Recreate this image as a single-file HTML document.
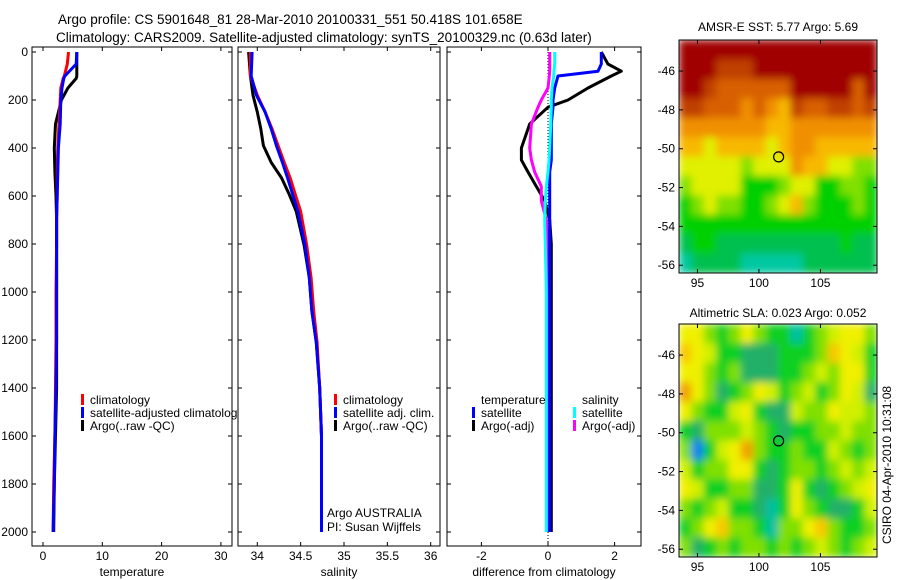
<!DOCTYPE html>
<html><head><meta charset="utf-8"><style>
body{margin:0;background:#fff;}
svg{display:block;font-family:"Liberation Sans",sans-serif;}
text{font-size:12px;fill:#000;}
</style></head><body>
<svg id="c" width="900" height="580" xmlns="http://www.w3.org/2000/svg">
<defs>
<filter id="blur" x="-5%" y="-5%" width="110%" height="110%"><feGaussianBlur stdDeviation="4" edgeMode="duplicate"/></filter>
<clipPath id="clipM1"><rect x="679" y="40" width="198" height="233"/></clipPath>
<clipPath id="clipM2"><rect x="679" y="324" width="198" height="233"/></clipPath>
<clipPath id="clipT"><rect x="0" y="0" width="238" height="580"/></clipPath>
</defs>
<text x="58" y="24" style="font-size:13.5px">Argo profile: CS 5901648_81 28-Mar-2010 20100331_551 50.418S 101.658E</text>
<text x="56" y="42" style="font-size:13.5px">Climatology: CARS2009. Satellite-adjusted climatology: synTS_20100329.nc (0.63d later)</text>
<text x="778" y="31" text-anchor="middle">AMSR-E SST: 5.77 Argo: 5.69</text>
<text x="778" y="317" text-anchor="middle">Altimetric SLA: 0.023 Argo: 0.052</text>
<text transform="translate(891,465) rotate(-90)" text-anchor="middle">CSIRO 04-Apr-2010 10:31:08</text>
</svg>
<script>
// ---- data ----
const tDepths=[0,50,100,110,150,200,300,400,500,600,700,800,1000,1200,1400,1600,1800,2000];
const tempClim=[4.3,4.1,3.6,3.4,3.0,2.9,2.7,2.5,2.4,2.4,2.3,2.3,2.2,2.2,2.1,2.0,1.8,1.7];
const tempSat=[5.7,5.6,3.7,3.5,3.2,3.0,2.9,2.6,2.5,2.4,2.3,2.3,2.3,2.3,2.2,2.0,1.9,1.7];
const tempArgo=[5.7,5.7,5.7,5.6,4.2,3.1,2.1,1.9,2.0,2.2,2.3,2.3,2.3,2.3,2.3,2.1,1.9,1.8];
const sDepths=[0,100,180,250,320,390,460,525,595,665,805,940,1080,1210,1400,1600,2000];
const salClim=[33.92,33.92,34.0,34.09,34.17,34.24,34.31,34.38,34.44,34.50,34.57,34.62,34.65,34.69,34.72,34.74,34.74];
const salSat=[33.94,33.93,33.99,34.09,34.16,34.22,34.29,34.35,34.41,34.47,34.55,34.60,34.63,34.68,34.72,34.74,34.74];
const salArgo=[33.90,33.92,33.95,34.0,34.04,34.07,34.16,34.28,34.37,34.45,34.54,34.60,34.63,34.68,34.72,34.74,34.74];
const dDepths=[0,50,80,100,150,200,230,300,400,450,500,560,620,700,800,1000,1400,2000];
const dTempSat=[1.6,1.6,1.5,0.3,0.2,0.15,0.15,0.1,0.1,0.1,0.05,0.05,0.05,0.05,0.05,0.05,0.05,0.05];
const dTempArgo=[1.6,1.8,2.2,1.9,1.2,0.6,0.0,-0.55,-0.8,-0.8,-0.6,-0.35,-0.1,0.05,0.1,0.1,0.1,0.1];
const dSalSat=[0.2,0.2,0.18,0.17,0.12,0.1,0.1,0.08,0.05,0.03,0.0,-0.05,-0.08,-0.1,-0.08,-0.05,-0.05,-0.05];
const dSalArgo=[0.05,0.05,0.05,0.04,0.0,-0.2,-0.3,-0.5,-0.55,-0.5,-0.4,-0.2,-0.2,-0.05,0,0,0,0];
const depthTicks=[0,200,400,600,800,1000,1200,1400,1600,1800,2000];
const tempTicks=[0,10,20,30];
const salTicks=[34,34.5,35,35.5,36];
const diffTicks=[-2,0,2];
const sstGrid=["9999999999999999","9998889999999999","9987777779999979","8877767658778878","6666666556666666","5545555456655555","4444434446554433","3444422234422332","2343322345322232","2222222222222222","1221111111111211","0111100000111111"];
const slaGrid=["6643464331345664","7653322233347653","6643422233454663","8642346534534652","6433563225446554","3244454323344544","4035684334335434","5344663234434545","6533442236323456","4345332136432235","3467443144674334","4234344343454345"];
const mapLonTicks=[95,100,105];
const mapLatTicks=[-46,-48,-50,-52,-54,-56];
const argoLon=101.6, argoLat=-50.42;

const svg=document.getElementById('c');
const NS='http://www.w3.org/2000/svg';
function mk(tag,attrs,parent){const e=document.createElementNS(NS,tag);for(const k in attrs)e.setAttribute(k,attrs[k]);(parent||svg).appendChild(e);return e;}

const Y0=52, YB=532;
const yD=d=>Y0+(YB-Y0)*d/2000;
const panels=[
 {name:'temperature',x0:32,x1:232,v0:0,px:5.93,vx:43,ticks:tempTicks,label:'temperature'},
 {name:'salinity',x0:238,x1:440,v0:34,px:86.7,vx:257.3,ticks:salTicks,label:'salinity'},
 {name:'difference',x0:447,x1:641,v0:0,px:33.3,vx:548,ticks:diffTicks,label:'difference from climatology'}];
panels.forEach((p,i)=>{
 p.x=v=>p.vx+(v-p.v0)*p.px;
 const g=mk('g',{});
 
 
 const fr=mk('rect',{x:p.x0,y:47,width:p.x1-p.x0,height:499,fill:'none',stroke:'#000','stroke-width':1},g);
 
 
 p.ticks.forEach(t=>{const x=p.x(t);
  mk('line',{x1:x,x2:x,y1:47,y2:51,stroke:'#000'},g);mk('line',{x1:x,x2:x,y1:546,y2:542,stroke:'#000'},g);
  const tx=mk('text',{x:x,y:560,'text-anchor':'middle'},g);tx.textContent=t;
  
  });
 depthTicks.forEach(d=>{const y=yD(d);
  mk('line',{x1:p.x0,x2:p.x0+4,y1:y,y2:y,stroke:'#000'},g);mk('line',{x1:p.x1,x2:p.x1-4,y1:y,y2:y,stroke:'#000'},g);
  if(i===0){const tx=mk('text',{x:28,y:y+4,'text-anchor':'end'},g);tx.textContent=d;
   
   }});
 const xl=mk('text',{x:(p.x0+p.x1)/2,y:576,'text-anchor':'middle'},g);xl.textContent=p.label;
 
 
});
function line(p,depths,vals,color,name){
 const pts=vals.map((v,k)=>p.x(v).toFixed(1)+','+yD(depths[k]).toFixed(1)).join(' ');
 const e=mk('polyline',{points:pts,fill:'none',stroke:color,'stroke-width':3,'stroke-linejoin':'round'});
 
 
}
const dz=mk('line',{x1:548,x2:548,y1:52,y2:546,stroke:'#000','stroke-dasharray':'1,2'});


line(panels[0],tDepths,tempArgo,'#000','temp-argo-line');
line(panels[0],tDepths,tempClim,'#f00','temp-climatology-line');
line(panels[0],tDepths,tempSat,'#00f','temp-satellite-line');
line(panels[1],sDepths,salArgo,'#000','sal-argo-line');
line(panels[1],sDepths,salClim,'#f00','sal-climatology-line');
line(panels[1],sDepths,salSat,'#00f','sal-satellite-line');
line(panels[2],dDepths,dTempArgo,'#000','diff-temp-argo-line');
line(panels[2],dDepths,dSalArgo,'#f0f','diff-sal-argo-line');
line(panels[2],dDepths,dTempSat,'#00f','diff-temp-satellite-line');
line(panels[2],dDepths,dSalSat,'#0ff','diff-sal-satellite-line');

function legend(x,y,color,label,name){
 const g=mk('g',{});
 
 
 if(color)mk('rect',{x:x-9,y:y-10,width:3,height:11,fill:color},g);
 const t=mk('text',{x:x,y:y},g);t.textContent=label;
 return g;
}
legend(90,404,'#f00','climatology','legend-temp-climatology');
legend(90,417,'#00f','satellite-adjusted climatology','legend-temp-satellite').setAttribute('clip-path','url(#clipT)');
legend(90,430,'#000','Argo(..raw -QC)','legend-temp-argo');
legend(343,404,'#f00','climatology','legend-sal-climatology');
legend(343,417,'#00f','satellite adj. clim.','legend-sal-satellite');
legend(343,430,'#000','Argo(..raw -QC)','legend-sal-argo');
legend(481,404,null,'temperature','legend-temp-header');
legend(481,417,'#00f','satellite','legend-diff-temp-satellite');
legend(481,430,'#000','Argo(-adj)','legend-diff-temp-argo');
legend(582,404,null,'salinity','legend-sal-header');
legend(582,417,'#0ff','satellite','legend-diff-sal-satellite');
legend(582,430,'#f0f','Argo(-adj)','legend-diff-sal-argo');
legend(327,517,null,'Argo AUSTRALIA','float-owner');
legend(327,531,null,'PI: Susan Wijffels','float-pi');

// maps
const sstCols=['#00c8a0','#00c050','#00d000','#80e000','#e0f000','#f8b800','#f09000','#d86000','#c04000','#a00000'];
const slaCols=['#1080f0','#00c0a0','#20b068','#10d020','#80e000','#d0f000','#f0f000','#f8c800','#f0a000'];
function map(y0,grid,cols,name,clip){
 const x0=679,x1=877,y1=y0+233;
 const lon0=93.5,lon1=109.6,lat0=-44.4,lat1=-56.4;
 const mx=l=>x0+(l-lon0)/(lon1-lon0)*(x1-x0);
 const my=l=>y0+(l-lat0)/(lat1-lat0)*(y1-y0);
 const g=mk('g',{});
 
 
 const cg=mk('g',{'clip-path':'url(#'+clip+')'},g);
 const fg=mk('g',{filter:'url(#blur)'},cg);
 const nr=grid.length,nc=grid[0].length;
 const cw=(x1-x0)/nc,ch=(y1-y0)/nr;
 grid.forEach((row,r)=>{for(let c=0;c<nc;c++){
  const cell=mk('rect',{x:(x0+c*cw).toFixed(2),y:(y0+r*ch).toFixed(2),width:(cw+0.6).toFixed(2),height:(ch+0.6).toFixed(2),fill:cols[+row[c]]},fg);
  
  }});
 mk('rect',{x:x0,y:y0,width:x1-x0,height:y1-y0,fill:'none',stroke:'#000'},g);
 mapLonTicks.forEach(l=>{const x=mx(l);mk('line',{x1:x,x2:x,y1:y0,y2:y0+4,stroke:'#000'},g);mk('line',{x1:x,x2:x,y1:y1,y2:y1-4,stroke:'#000'},g);
  const t=mk('text',{x:x,y:y1+14,'text-anchor':'middle'},g);t.textContent=l;
  
  });
 mapLatTicks.forEach(l=>{const y=my(l);mk('line',{x1:x0,x2:x0+4,y1:y,y2:y,stroke:'#000'},g);mk('line',{x1:x1,x2:x1-4,y1:y,y2:y,stroke:'#000'},g);
  const t=mk('text',{x:x0-4,y:y+4,'text-anchor':'end'},g);t.textContent=l;
  
  });
 const c=mk('ellipse',{cx:mx(argoLon),cy:my(argoLat),rx:5,ry:5,fill:'none',stroke:'#000','stroke-width':1.2},g);
 
 
}
map(40,sstGrid,sstCols,'sst-map','clipM1');
map(324,slaGrid,slaCols,'sla-map','clipM2');
</script>
</body></html>
